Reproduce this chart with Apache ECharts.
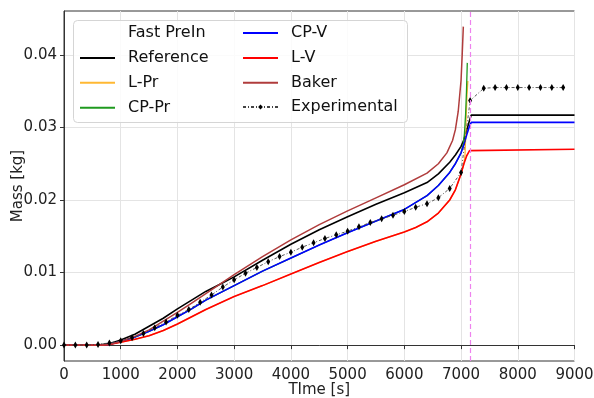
<!DOCTYPE html>
<html><head><meta charset="utf-8">
<script src="https://cdn.jsdelivr.net/npm/echarts@6/dist/echarts.min.js"></script>
<style>html,body{margin:0;padding:0;background:#fff}#c{width:594px;height:398px}</style>
</head><body><div id="c"></div>
<script>
// ---- tick labels ----
const xTicks = [0, 1000, 2000, 3000, 4000, 5000, 6000, 7000, 8000, 9000];
const yTicks = [0, 0.01, 0.02, 0.03, 0.04];

// ---- series data (time [s], mass [kg]) ----
const refT = [0, 600, 800, 1000, 1250, 1500, 1750, 2000, 2250, 2500, 2750, 3000, 3500, 4000, 4500, 5000, 5500, 6000, 6400, 6600, 6800, 6900, 7000, 7050, 7100, 7150, 7180, 9000];
const refM = [0, 0, 0.0002, 0.0007, 0.0015, 0.0026, 0.0037, 0.0050, 0.0062, 0.0074, 0.0084, 0.0094, 0.0117, 0.0139, 0.0159, 0.0177, 0.0194, 0.0210, 0.0224, 0.0236, 0.0252, 0.0262, 0.0274, 0.0283, 0.0296, 0.0310, 0.0317, 0.0317];

const cpvT = [0, 700, 800, 1000, 1250, 1500, 1750, 2000, 2250, 2500, 2750, 3000, 3500, 4000, 4500, 5000, 5500, 6000, 6400, 6600, 6800, 6900, 7000, 7050, 7100, 7150, 7180, 9000];
const cpvM = [0, 0, 0.0001, 0.0005, 0.0011, 0.0019, 0.0028, 0.0039, 0.0050, 0.0062, 0.0072, 0.0082, 0.0102, 0.0120, 0.0138, 0.0155, 0.0171, 0.0187, 0.0206, 0.0220, 0.0238, 0.0250, 0.0265, 0.0276, 0.0290, 0.0302, 0.0307, 0.0307];

const lvT = [0, 700, 800, 1000, 1250, 1500, 1750, 2000, 2250, 2500, 2750, 3000, 3500, 4000, 4500, 5000, 5500, 6000, 6200, 6400, 6600, 6800, 6900, 7000, 7050, 7100, 7150, 7180, 9000];
const lvM = [0, 0, 0.0001, 0.0004, 0.0008, 0.0013, 0.0020, 0.0029, 0.0039, 0.0049, 0.0058, 0.0067, 0.0082, 0.0098, 0.0114, 0.0129, 0.0143, 0.0156, 0.0162, 0.0170, 0.0182, 0.0200, 0.0214, 0.0236, 0.0250, 0.0261, 0.0268, 0.0270, 0.0270];

const lprT = [0, 700, 800, 1000, 1250, 1500, 1750, 2000, 2250, 2500, 2750, 3000, 3500, 4000, 4500, 5000, 5500, 6000, 6200, 6400, 6600, 6800, 6900, 7000, 7050, 7070, 7080, 7090, 7105, 7120];
const lprM = [0, 0, 0.0001, 0.0004, 0.0008, 0.0013, 0.0020, 0.0029, 0.0039, 0.0049, 0.0058, 0.0067, 0.0082, 0.0098, 0.0114, 0.0129, 0.0143, 0.0156, 0.0162, 0.0170, 0.0182, 0.0200, 0.0214, 0.0236, 0.0250, 0.0262, 0.0285, 0.0315, 0.0345, 0.0364];

const cpprT = [0, 700, 800, 1000, 1250, 1500, 1750, 2000, 2250, 2500, 2750, 3000, 3500, 4000, 4500, 5000, 5500, 6000, 6400, 6600, 6800, 6900, 7000, 7040, 7060, 7080, 7095, 7110];
const cpprM = [0, 0, 0.0001, 0.0005, 0.0011, 0.0019, 0.0028, 0.0039, 0.0050, 0.0062, 0.0072, 0.0082, 0.0102, 0.0120, 0.0138, 0.0155, 0.0171, 0.0187, 0.0206, 0.0220, 0.0238, 0.0250, 0.0265, 0.0278, 0.0292, 0.0318, 0.0348, 0.0389];

const bakerT = [0, 700, 800, 1000, 1250, 1500, 1750, 2000, 2250, 2500, 2750, 3000, 3500, 4000, 4500, 5000, 5500, 6000, 6400, 6600, 6750, 6850, 6900, 6950, 7000, 7020, 7040];
const bakerM = [0, 0, 0.0001, 0.0005, 0.0012, 0.0021, 0.0033, 0.0045, 0.0058, 0.0071, 0.0084, 0.0097, 0.0122, 0.0145, 0.0166, 0.0185, 0.0203, 0.0221, 0.0237, 0.0250, 0.0265, 0.0282, 0.0297, 0.0322, 0.0365, 0.0400, 0.0439];

const expT = [0, 200, 400, 600, 800, 1000, 1200, 1400, 1600, 1800, 2000, 2200, 2400, 2600, 2800, 3000, 3200, 3400, 3600, 3800, 4000, 4200, 4400, 4600, 4800, 5000, 5200, 5400, 5600, 5800, 6000, 6200, 6400, 6600, 6800, 7000, 7160, 7400, 7600, 7800, 8000, 8200, 8400, 8600, 8800];
const expM = [0, 0, 0, 0.0001, 0.0003, 0.0006, 0.0010, 0.0016, 0.0024, 0.0032, 0.0041, 0.0049, 0.0059, 0.0069, 0.0080, 0.0090, 0.0099, 0.0107, 0.0115, 0.0122, 0.0128, 0.0135, 0.0141, 0.0147, 0.0152, 0.0157, 0.0163, 0.0169, 0.0174, 0.0179, 0.0184, 0.0190, 0.0195, 0.0203, 0.0216, 0.0238, 0.0337, 0.0354, 0.0355, 0.0355, 0.0355, 0.0355, 0.0355, 0.0355, 0.0355];

const injectionEnd = 7160;

const zip = (t, m) => t.map((v, i) => [v, m[i]]);
const FONT = 'DejaVu Sans';

function simLine(name, t, m, color, width) {
  return {
    name, type: 'line', data: zip(t, m), color,
    symbol: 'none', smooth: false,
    lineStyle: { color, width }, z: 2
  };
}

const legendText = { fontFamily: FONT, fontSize: 16, color: '#111', padding: [0, 0, 0, 8], lineHeight: 14 };
function legendCol(left, top, items, itemHeight, gap, hideSymbol) {
  const l = {
    orient: 'vertical', left, top, padding: 0,
    itemWidth: 35, itemHeight, itemGap: gap,
    textStyle: legendText, data: items, selectedMode: false, z: 5
  };
  if (hideSymbol) l.itemStyle = { opacity: 0 };
  return l;
}

const chart = echarts.init(document.getElementById('c'), null, { renderer: 'canvas' });
chart.setOption({
  animation: false,
  backgroundColor: '#fff',
  grid: { left: 64, right: 19.5, top: 11, bottom: 37, show: true, borderColor: '#333', borderWidth: 1,
    containLabel: false, outerBoundsMode: 'none' },
  xAxis: {
    type: 'value', min: 0, max: 9000, interval: 1000,
    name: 'TIme [s]', nameLocation: 'middle', nameGap: 22, nameMoveOverlap: false,
    nameTextStyle: { fontFamily: FONT, fontSize: 15, color: '#222', verticalAlign: 'top' },
    axisLine: { show: true, lineStyle: { color: '#333', width: 1 } },
    axisTick: { show: true, inside: false, length: 4, lineStyle: { color: '#333' } },
    axisLabel: { fontFamily: FONT, fontSize: 15, color: '#222', margin: 7,
      customValues: xTicks, formatter: v => String(v) },
    splitLine: { show: true, lineStyle: { color: '#e4e4e4', width: 1 } }
  },
  yAxis: {
    type: 'value', min: -0.00219, max: 0.04605,
    name: 'Mass [kg]', nameLocation: 'middle', nameGap: 38, nameRotate: 90, nameMoveOverlap: false,
    nameTextStyle: { fontFamily: FONT, fontSize: 15, color: '#222' },
    axisLine: { show: true, lineStyle: { color: '#333', width: 1 } },
    axisTick: { show: true, inside: false, length: 4, lineStyle: { color: '#333' }, customValues: yTicks },
    axisLabel: { fontFamily: FONT, fontSize: 15, color: '#222', margin: 7,
      customValues: yTicks, formatter: v => v.toFixed(2) },
    splitLine: { show: true, lineStyle: { color: '#e4e4e4', width: 1 } }
  },
  legend: [
    legendCol(79, 25, ['Fast PreIn', 'Reference', 'L-Pr', 'CP-Pr'], 14, 8.9, true),
    legendCol(242, 25, ['CP-V', 'L-V', 'Baker'], 14, 8.9, true),
    legendCol(242, 99, ['Experimental'], 6, 8.9, false)
  ],
  graphic: [{
    type: 'rect', z: 4, silent: true,
    shape: { x: 73.5, y: 20.5, width: 334, height: 102, r: 4 },
    style: { fill: 'rgba(255,255,255,0.85)', stroke: '#d5d5d5', lineWidth: 1 }
  }],
  series: [
    { name: 'Fast PreIn', type: 'line', data: [], symbol: 'none', color: '#fff', lineStyle: { opacity: 0 } },
    simLine('Reference', refT, refM, '#000000', 1.6),
    simLine('L-Pr', lprT, lprM, '#ffb833', 1.3),
    simLine('CP-Pr', cpprT, cpprM, '#1f9a1f', 1.3),
    simLine('CP-V', cpvT, cpvM, '#0000ff', 1.6),
    simLine('L-V', lvT, lvM, '#ff0000', 1.6),
    simLine('Baker', bakerT, bakerM, '#b03c3c', 1.5),
    {
      name: 'Experimental', type: 'line', data: zip(expT, expM), color: '#000',
      symbol: 'diamond', symbolSize: [4, 7], showSymbol: true,
      itemStyle: { color: '#000' },
      lineStyle: { color: '#444', width: 0.9, type: [3, 2, 1, 2] }, z: 3,
      markLine: {
        silent: true, symbol: 'none', label: { show: false },
        lineStyle: { color: '#ee82ee', width: 1.2, type: [5, 3] },
        data: [{ xAxis: injectionEnd }]
      }
    }
  ]
});
</script></body></html>
